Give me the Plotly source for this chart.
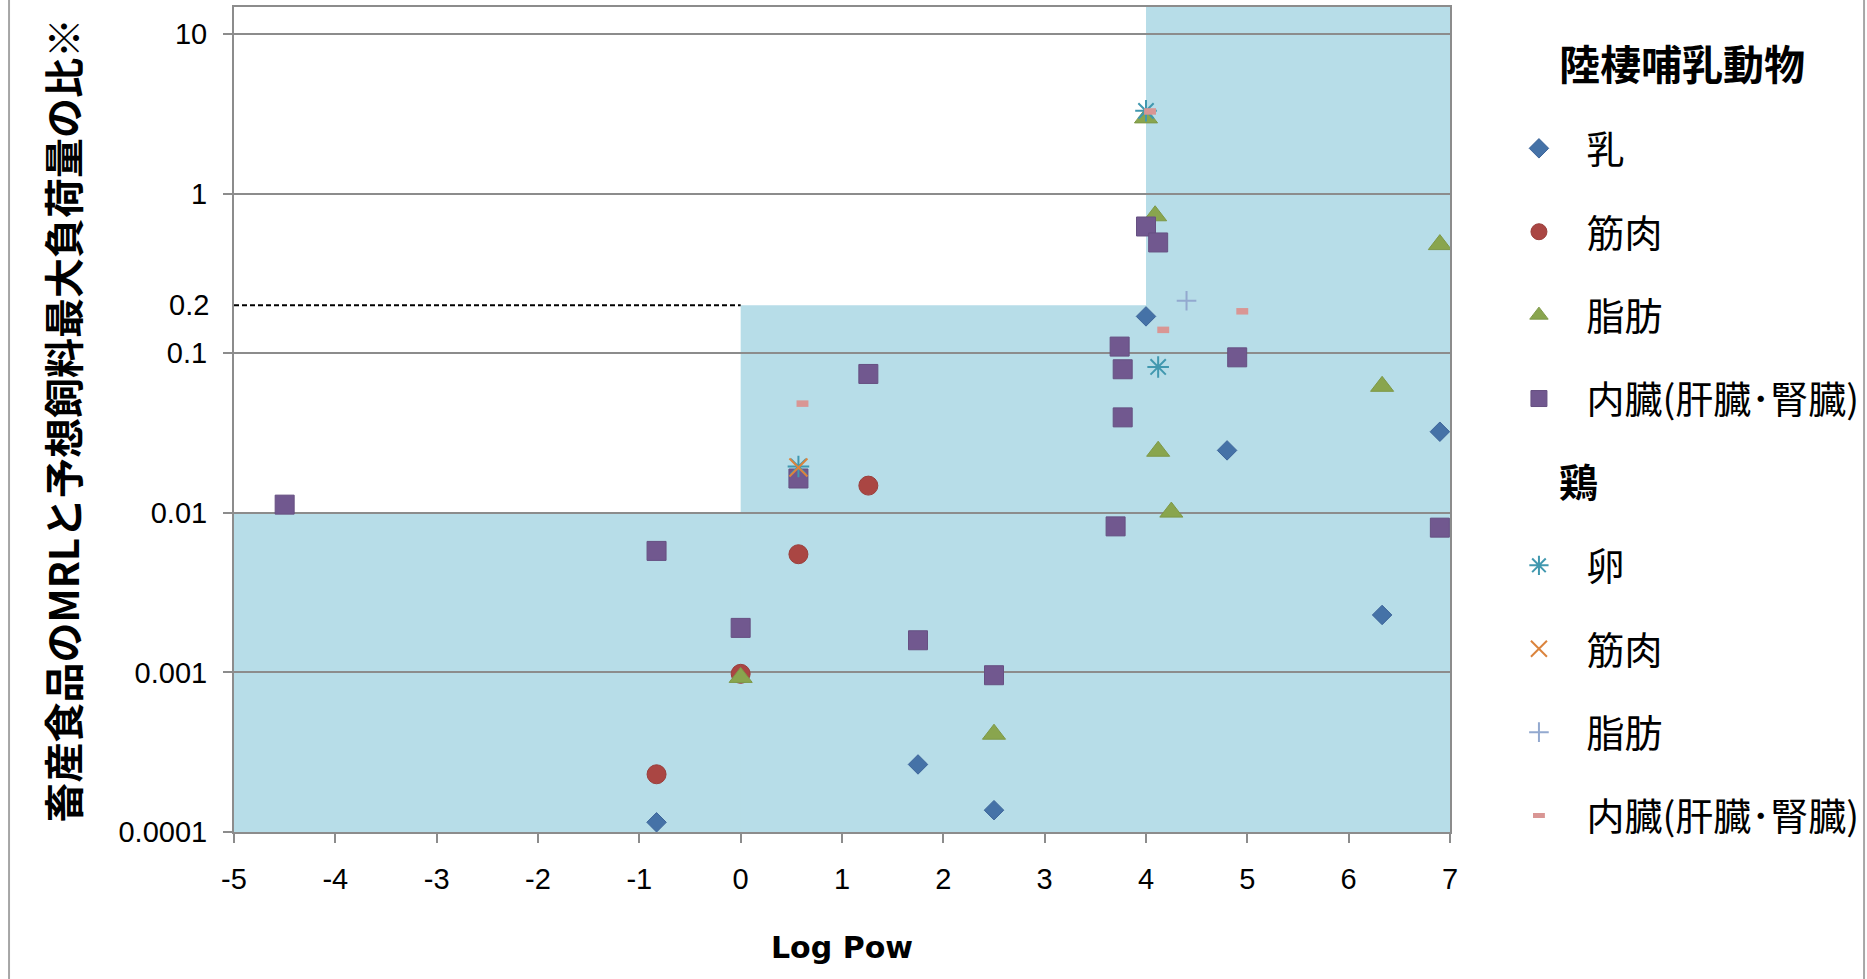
import math
import plotly.graph_objects as go

# ---------------- data ----------------
x_ticks = [-5, -4, -3, -2, -1, 0, 1, 2, 3, 4, 5, 6, 7]
y_ticks = [0.0001, 0.001, 0.01, 0.1, 1, 10]
y_tick_text = ["0.0001", "0.001", "0.01", "0.1", "1", "10"]
threshold = 0.2
threshold_label = "0.2"

# shaded (light blue) regions: x from, x to, y top
region_x0 = [-5, 0, 4]
region_x1 = [7, 7, 7]
region_ytop = [0.01, 0.2, 20]

# 陸棲哺乳動物
milk_x = [-0.83, 1.75, 2.50, 6.33, 4.80, 6.90, 4.00]
milk_y = [0.000115, 0.000265, 0.000137, 0.00229, 0.0246, 0.0322, 0.170]

muscle_x = [-0.83, 0.00, 0.57, 1.26]
muscle_y = [0.00023, 0.00098, 0.0055, 0.0148]

fat_x = [0.00, 2.50, 4.25, 4.12, 6.33, 6.90, 4.09, 4.00]
fat_y = [0.00093, 0.00041, 0.0101, 0.0243, 0.062, 0.479, 0.726, 2.98]

organ_x = [-4.50, -0.83, 0.00, 0.57, 1.26, 1.75, 2.50, 3.70, 6.90, 3.77, 3.77, 3.74, 4.90, 4.00, 4.12]
organ_y = [0.01125, 0.00577, 0.0019, 0.0164, 0.0741, 0.00159, 0.00096, 0.00822, 0.00807,
           0.0396, 0.0793, 0.110, 0.0942, 0.622, 0.494]

# 鶏
egg_x = [4.00, 4.12, 0.57]
egg_y = [3.30, 0.082, 0.0195]

chicken_muscle_x = [0.57]
chicken_muscle_y = [0.0192]

chicken_fat_x = [4.40]
chicken_fat_y = [0.213]

chicken_organ_x = [4.04, 4.17, 4.95, 0.61]
chicken_organ_y = [3.27, 0.140, 0.183, 0.0483]

header_mammal = "陸棲哺乳動物"
header_chicken = "鶏"
name_milk = "乳"
name_muscle = "筋肉"
name_fat = "脂肪"
name_organ = "内臓(肝臓･腎臓)"
name_egg = "卵"

x_title = "Log Pow"
y_title = "畜産食品のMRLと予想飼料最大負荷量の比※"

# ---------------- styling ----------------
PAD = "\u2002\u00a0"   # indent of item labels relative to group headers
TICK_FONT = dict(family="Arial, Liberation Sans, sans-serif", size=29, color="black")
GRID = "#8C8C8C"
BLUE_BG = "#B7DDE8"

fig = go.Figure()

def header(name, gid, fs):
    fig.add_trace(go.Scatter(
        x=[None], y=[None], mode="markers",
        name='<span style="font-size:%dpx"><b>%s</b></span>' % (fs, name),
        marker=dict(size=1, color="rgba(0,0,0,0)"),
        legendgroup=gid, hoverinfo="skip"))

def series(x, y, name, gid, symbol, color, size, lw=1, lcolor=None):
    fig.add_trace(go.Scatter(
        x=x, y=y, mode="markers", name=PAD + name, legendgroup=gid,
        marker=dict(symbol=symbol, color=color, size=size,
                    line=dict(width=lw, color=lcolor or color))))

header(header_mammal, "h1", 41)
series(milk_x, milk_y, name_milk, "g1", "diamond", "#4572A7", 15, 1, "#3D659A")
series(muscle_x, muscle_y, name_muscle, "g2", "circle", "#AA4643", 19, 1, "#9A3F3C")
series(fat_x, fat_y, name_fat, "g3", "triangle-up", "#89A54E", 20, 1, "#7D9847")
series(organ_x, organ_y, name_organ, "g4", "square", "#71588F", 19, 1, "#665082")
header(header_chicken, "h2", 39)
series(egg_x, egg_y, name_egg, "g5", "asterisk-open", "#4198AF", 18, 2)
series(chicken_muscle_x, chicken_muscle_y, name_muscle, "g6", "x-thin-open", "#DB843D", 18, 2)
series(chicken_fat_x, chicken_fat_y, name_fat, "g7", "cross-thin-open", "#93A9CF", 14, 2)
series(chicken_organ_x, chicken_organ_y, name_organ, "g8", "line-ew-open", "#D99694", 8.5, 6.5)

# shaded regions (below grid)
shapes = []
for x0, x1, yt in zip(region_x0, region_x1, region_ytop):
    shapes.append(dict(type="rect", xref="x", yref="y", x0=x0, x1=x1, y0=y_ticks[0], y1=yt,
                       fillcolor=BLUE_BG, line=dict(width=0), layer="below"))
# dashed threshold line
shapes.append(dict(type="line", xref="x", yref="y", x0=x_ticks[0], x1=0, y0=threshold, y1=threshold,
                   line=dict(color="black", width=2, dash="5px,3px"), layer="above"))
# outer chart frame (left / right)
for xp in [-0.185, 1.3405]:
    shapes.append(dict(type="line", xref="paper", yref="paper", x0=xp, x1=xp, y0=-0.2, y1=1.05,
                       line=dict(color="#A6A6A6", width=2), layer="above"))

annotations = [
    dict(text=threshold_label, xref="paper", yref="y", x=-0.019, y=math.log10(threshold),
         xanchor="right", yanchor="middle", showarrow=False, font=TICK_FONT),
    dict(text="<b>" + y_title + "</b>", xref="paper", yref="paper", x=-0.1415, y=0.5,
         xanchor="center", yanchor="middle", textangle=-90, showarrow=False,
         font=dict(family="Noto Sans CJK JP, sans-serif", size=40, color="black")),
    dict(text="<b>" + x_title + "</b>", xref="paper", yref="paper", x=0.5, y=-0.1405,
         xanchor="center", yanchor="middle", showarrow=False,
         font=dict(family="DejaVu Sans, sans-serif", size=30, color="black")),
]

fig.update_layout(
    width=1867, height=979,
    margin=dict(l=234, r=417, t=7, b=147, autoexpand=False),
    paper_bgcolor="white", plot_bgcolor="white",
    shapes=shapes, annotations=annotations,
    showlegend=True,
    legend=dict(x=1.0567, y=0.9676, xanchor="left", yanchor="top",
                font=dict(family="Noto Sans CJK JP, sans-serif", size=38, color="black"),
                tracegroupgap=31, bgcolor="rgba(0,0,0,0)", borderwidth=0,
                traceorder="grouped"),
    xaxis=dict(range=[x_ticks[0], x_ticks[-1]], tickmode="array", tickvals=x_ticks,
               ticktext=[str(v) for v in x_ticks], showgrid=False, zeroline=False,
               showline=True, linecolor=GRID, linewidth=2, mirror=True,
               ticks="outside", ticklen=9, tickwidth=2, tickcolor=GRID,
               tickfont=TICK_FONT, ticklabelstandoff=11),
    yaxis=dict(type="log", range=[-4, 1.169], tickmode="array", tickvals=y_ticks,
               ticktext=y_tick_text, showgrid=True, gridcolor=GRID, gridwidth=2,
               zeroline=False, showline=True, linecolor=GRID, linewidth=2, mirror=True,
               ticks="outside", ticklen=9, tickwidth=2, tickcolor=GRID,
               tickfont=TICK_FONT, ticklabelstandoff=10),
)

fig.write_html("out.html", config={"displayModeBar": False},
               post_script="document.body.style.margin='0';")
